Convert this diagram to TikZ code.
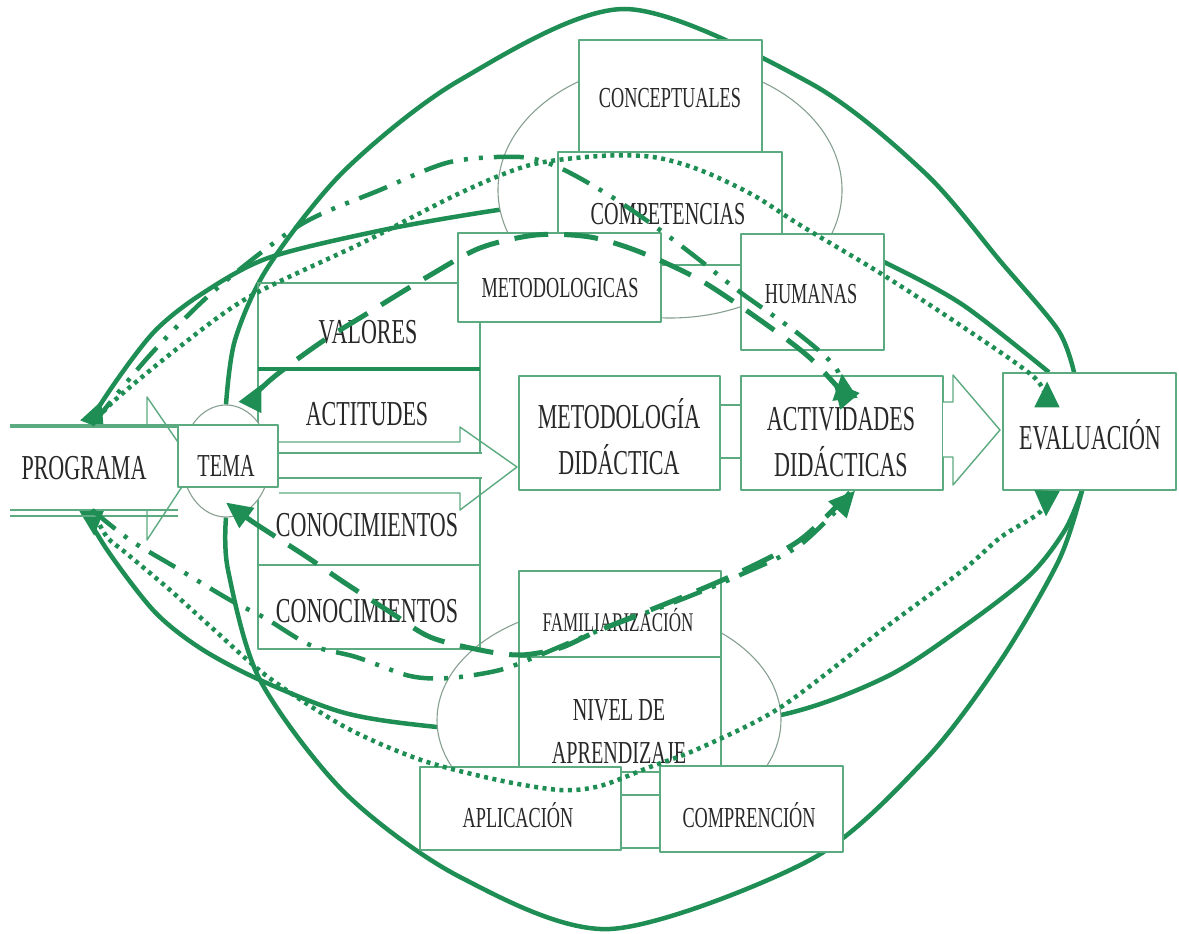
\documentclass[tikz,border=0pt]{standalone}
\usepackage{fontspec}
\setmainfont{Liberation Serif}[FakeStretch=0.63]
\usetikzlibrary{arrows.meta,shapes.geometric,calc}
\pgfdeclarelayer{bg}
\pgfsetlayers{bg,main}
\definecolor{gr}{RGB}{30,142,84}
\definecolor{gl}{RGB}{92,170,128}
\definecolor{ge}{RGB}{135,160,145}
\definecolor{tx}{RGB}{40,40,40}
\tikzset{
 gtip/.tip={Triangle[length=26pt,width=24pt]},
 rgtip/.tip={Triangle[length=26pt,width=24pt,reversed]}
}
\begin{document}
\begin{tikzpicture}[x=1pt,y=-1pt,line join=round,
 box/.style={draw=gl,line width=1.4pt,fill=white,inner sep=0pt},
 ell/.style={ellipse,draw=ge,line width=1.1pt,fill=white,inner sep=0pt},
 lbl/.style={text=tx,inner sep=0pt},
 one/.style={text height=#1,text depth=0pt},
 big/.style={font=\fontsize{35}{46}\selectfont},
 med/.style={font=\fontsize{32}{43}\selectfont},
 sml/.style={font=\fontsize{29}{34}\selectfont},
 xsm/.style={font=\fontsize{27}{32}\selectfont},
 solidc/.style={draw=gr,line width=4.5pt},
 dotc/.style={draw=gr,line width=4.5pt,dash pattern=on 4pt off 4.5pt},
 dashc/.style={draw=gr,line width=5pt,dash pattern=on 34pt off 16pt},
 ddotc/.style={draw=gr,line width=4.5pt,dash pattern=on 30pt off 11pt on 4pt off 11pt on 4pt off 11pt},
 thin/.style={draw=gl,line width=1.4pt}
]
\useasboundingbox (0,0) rectangle (1179,934);

% group ellipses
\node[ell,minimum width=344pt,minimum height=256pt] (gc) at (670,190) {};
\node[ell,minimum width=344pt,minimum height=230pt] (gf) at (609,720) {};

% PROGRAMA block arrow
\draw[thin,fill=white] (10,425) -- (147,425) -- (147,397) -- (195,467) -- (147,540) -- (147,510) -- (10,510);
\draw[gl,line width=3.2pt] (10,426) -- (178,426);
\draw[gl,line width=1.6pt] (10,510) -- (178,510) (10,516) -- (178,516);
\node[lbl,big,one=23pt] (prog) at (84,468) {PROGRAMA};

% big box VALORES / ACTITUDES / CONOCIMIENTOS
\node[draw=gl,line width=1.4pt,inner sep=0pt,minimum width=222pt,minimum height=366pt] (vbox) at (369,466) {};
\draw[gr,line width=3.5pt] (258,369) -- (480,369);
\draw[thin] (258,565) -- (480,565);

% ACTITUDES block arrow
\draw[thin] (279,442) -- (460,442) -- (460,427) -- (517,467) -- (460,510) -- (460,493) -- (279,493);
\fill[white] (279,453) rectangle (483,478);
\draw[gl,line width=2.6pt] (279,453) -- (482,453) (279,478) -- (482,478);

% TEMA
\node[ell,minimum width=88pt,minimum height=112pt] (tcirc) at (226,461) {};
\node[box,minimum width=100pt,minimum height=62pt] (tema) at (228,456) {};

% upper group boxes
\node[box,minimum width=183pt,minimum height=113pt] (concep) at (670.5,96.5) {};
\node[box,minimum width=224pt,minimum height=113pt] (compet) at (670,208.5) {};
\node[box,minimum width=203pt,minimum height=89pt] (metodol) at (559.5,277.5) {};
\node[box,minimum width=143pt,minimum height=116pt] (human) at (812.5,292) {};

% middle row
\draw[thin] (720,405) -- (741,405) (720,458) -- (741,458);
\node[box,minimum width=201pt,minimum height=114pt] (metd) at (619.5,433) {};
\node[box,minimum width=202pt,minimum height=114pt] (activ) at (842,433) {};
\draw[thin,fill=white] (943,402) -- (953,402) -- (953,375) -- (1000,430) -- (953,485) -- (953,457) -- (943,457);
\node[box,minimum width=173pt,minimum height=117pt] (eval) at (1089.5,431.5) {};

% lower group boxes
\node[box,minimum width=202pt,minimum height=148pt] (nivel) at (620,731) {};
\node[box,minimum width=202pt,minimum height=86pt] (fam) at (620,614) {};
\node[box,minimum width=39pt,minimum height=76pt] (mini) at (640.5,810) {};
\draw[thin] (621,795) -- (660,795);
\node[box,minimum width=201pt,minimum height=83pt] (aplic) at (520.5,808.5) {};
\node[box,minimum width=183pt,minimum height=86pt] (compr) at (751.5,809) {};

% labels
\node[lbl,med,one=21pt] (l-tema) at (226,466) {TEMA};
\node[lbl,sml,one=19pt] (l-concep) at (670,98) {CONCEPTUALES};
\node[lbl,med,one=21pt] (l-compet) at (668,214) {COMPETENCIAS};
\node[lbl,sml,one=19pt] (l-metodol) at (560,288) {METODOLOGICAS};
\node[lbl,sml,one=19pt] (l-human) at (811,294) {HUMANAS};
\node[lbl,big,one=23pt] (l-val) at (368,332) {VALORES};
\node[lbl,big,one=23pt] (l-act) at (367,414) {ACTITUDES};
\node[lbl,big,one=23pt] (l-con1) at (367,525) {CONOCIMIENTOS};
\node[lbl,big,one=23pt] (l-con2) at (367,611) {CONOCIMIENTOS};
\node[lbl,big,align=center] (l-metd) at (619,437) {METODOLOGÍA\\DIDÁCTICA};
\node[lbl,big,align=center] (l-activ) at (841,442) {ACTIVIDADES\\DIDÁCTICAS};
\node[lbl,big,one=23pt] (l-eval) at (1090,438) {EVALUACIÓN};
\node[lbl,xsm,one=18pt] (l-fam) at (618,622) {FAMILIARIZACIÓN};
\node[lbl,med,align=center] (l-nivel) at (619,731.5) {NIVEL DE\\APRENDIZAJE};
\node[lbl,sml,one=19pt] (l-aplic) at (518,818) {APLICACIÓN};
\node[lbl,sml,one=19pt] (l-compr) at (749,818) {COMPRENCIÓN};

% connector end points
\coordinate (pT) at ($(prog.center)+(8,-43)$);
\coordinate (pB) at ($(prog.center)+(8,42)$);
\coordinate (t4s) at ($(tcirc.north)+(24,3)$);
\coordinate (t4e) at ($(tcirc.south)+(0,-15)$);
\coordinate (e1) at ($(eval.north)+(-40.5,0)$);
\coordinate (e3) at ($(eval.north)+(-15.5,0)$);
\coordinate (e5) at ($(eval.north)+(-42.5,35)$);
\coordinate (e2) at ($(eval.south)+(-7.5,0)$);
\coordinate (e8) at ($(eval.south)+(-42.5,0)$);
\coordinate (e6) at ($(activ.north)+(3,24)$);
\coordinate (e7) at ($(activ.north)+(8,26)$);
\coordinate (e9) at ($(activ.south)+(13,0)$);
\coordinate (e9b) at ($(activ.south)+(8,2)$);

% solid connectors (behind)
\begin{pgfonlayer}{bg}
\fill[white] (0,0) rectangle (1179,934);
\draw[solidc] plot[smooth] coordinates {(tcirc.north) (235,340) (268,267) (345,170) (460,80) (625,9) (810,83) (925,173) (1001,262) (1058,330) (e3)};
\draw[solidc] plot[smooth] coordinates {(tcirc.south) (228,570) (260,680) (345,793) (460,877) (610,929) (810,860) (925,760) (1001,660) (1059,560) (e2)};
\draw[solidc,rgtip-] plot[smooth] coordinates {(pT) (108,393) (153,333) (200,295) (268,258) (383,230) (498,210) (600,198) (700,200) (800,225) (886,263) (963,305) (e1)};
\draw[solidc,rgtip-] plot[smooth] coordinates {(pB) (102,542) (153,610) (200,648) (260,680) (345,713) (437,727) (600,740) (781,715) (886,677) (963,627) (1030,575) (1065,530) (e2)};
\end{pgfonlayer}

% dotted / dashed connectors (on top)
\draw[dotc,-rgtip] plot[smooth] coordinates {(pT) (115,400) (178,348) (249,297) (364,242) (460,193) (530,165) (600,156) (653,157) (700,170) (753,195) (800,225) (880,273) (960,325) (1035,378) (e5)};
\draw[ddotc,-rgtip] plot[smooth] coordinates {(pT) (150,355) (215,290) (300,225) (380,190) (450,162) (520,157) (560,168) (612,197) (660,230) (697,258) (740,292) (800,335) (836,368) (e6)};
\draw[dashc,rgtip-rgtip] plot[smooth] coordinates {(t4s) (268,382) (320,343) (368,313) (427,277) (480,248) (536,235) (590,237) (640,252) (700,280) (760,320) (810,358) (e7)};
\draw[dotc,-rgtip] plot[smooth] coordinates {(pB) (107,537) (126,553) (170,590) (211,627) (268,677) (345,727) (421,760) (498,780) (560,790) (600,786) (650,767) (700,748) (781,707) (886,627) (963,570) (1001,537) (1040,512) (e8)};
\draw[ddotc,-gtip] plot[smooth] coordinates {(pB) (130,540) (175,567) (230,600) (265,618) (310,645) (356,657) (410,676) (450,678) (500,670) (540,655) (600,630) (680,600) (740,575) (800,545) (e9)};
\draw[dashc,-gtip] plot[smooth] coordinates {(e9b) (800,540) (740,572) (680,598) (600,630) (560,648) (520,655) (480,650) (430,637) (390,612) (345,583) (307,557) (276,537) (250,520) (t4e)};
\end{tikzpicture}
\end{document}
